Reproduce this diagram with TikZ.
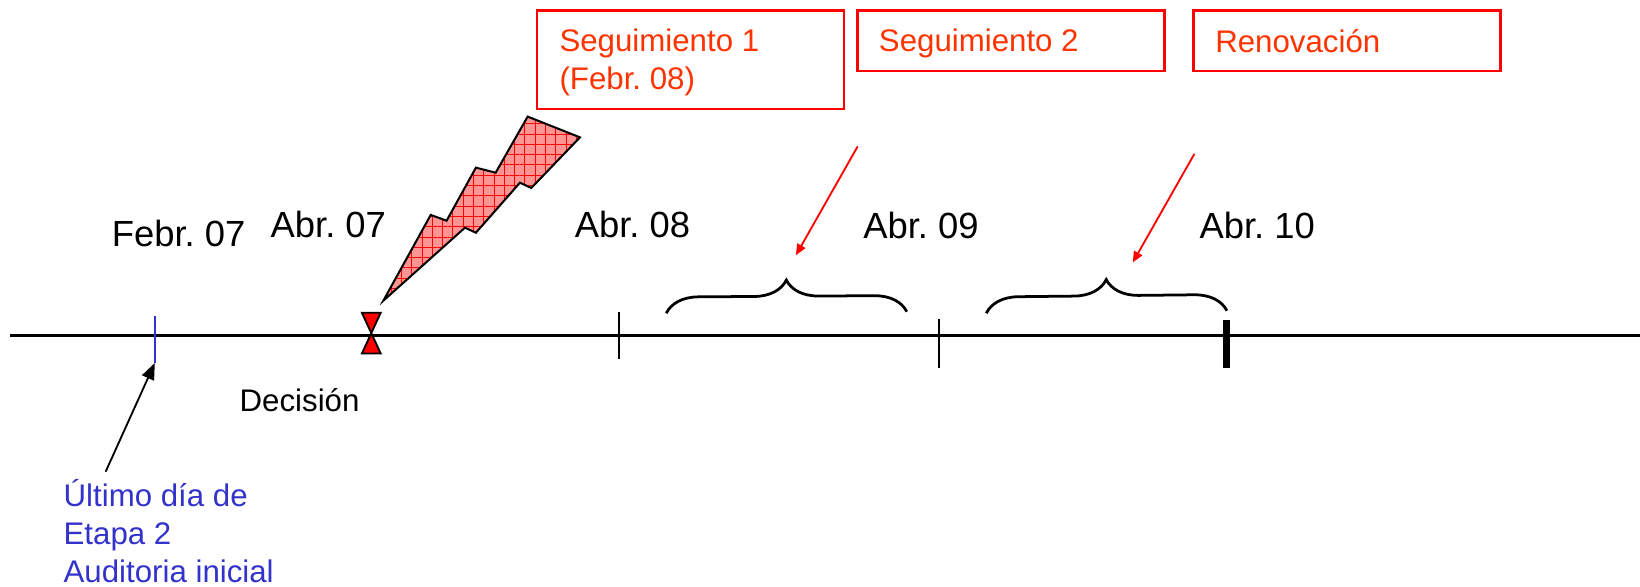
\documentclass[tikz,border=0pt]{standalone}
\usepackage{fontspec}
\setmainfont{Liberation Sans}
\usetikzlibrary{arrows.meta,patterns.meta,decorations.pathreplacing}
\frenchspacing

\definecolor{segred}{HTML}{FF3300}
\definecolor{etapablue}{HTML}{3333CC}
\definecolor{boltfill}{HTML}{FF9494}

\begin{document}
\begin{tikzpicture}[x=0.02cm,y=-0.02cm,
    datelbl/.style={anchor=base west,inner sep=0pt,font=\fontsize{19.8}{23}\selectfont},
    smalllbl/.style={anchor=base west,inner sep=0pt,align=left,font=\fontsize{17}{20.8}\selectfont},
    redbox/.style={draw=red,line width=1.3pt,anchor=north west,inner sep=0pt,minimum width=5.87cm},
    tickline/.style={line width=1.3pt},
    redarrow/.style={red,line width=1pt,-{Triangle[length=6pt,width=5pt]}},
    periodbrace/.style={line width=1.5pt,decorate,decoration={brace,amplitude=0.62cm}},
    bolt/.style={draw=black,line width=1.1pt,preaction={fill=boltfill},
        preaction={pattern={Hatch[angle=0,distance=5.6pt,line width=0.4pt]},pattern color=red}},
  ]

  \useasboundingbox (0,0) rectangle (1568,561);

  % Define the positions of the nodes
  \coordinate (start) at (10,321);
  \coordinate (end) at (1568,321);
  \coordinate (feb07top) at (148,302);
  \coordinate (feb07bot) at (148,347);
  \coordinate (abr08top) at (592,298);
  \coordinate (abr08bot) at (592,343.5);
  \coordinate (abr09top) at (898,305);
  \coordinate (abr09bot) at (898,352);
  \coordinate (abr10top) at (1172.5,306);
  \coordinate (abr10bot) at (1172.5,352);

  \node[datelbl] (feb07) at (106.6,235.8) {Febr. 07};
  \node[datelbl] (abr07) at (258.4,227.2) {Abr. 07};
  \node[datelbl] (abr08) at (549.2,227.2) {Abr. 08};
  \node[datelbl] (abr09) at (825,228) {Abr. 09};
  \node[datelbl] (abr10) at (1146.5,227.8) {Abr. 10};

  \node[smalllbl] (decision) at (228.8,393.5) {Decisión};
  % multi-line nodes sit on the baseline of their last line
  \node[smalllbl,text=etapablue] (ultimo) at (60.5,557) {Último día de\\Etapa 2\\Auditoria inicial};

  \node[redbox,minimum height=1.88cm] (box1) at (512.3,9) {};
  \node[redbox,minimum height=1.16cm] (box2) at (818.6,9) {};
  \node[redbox,minimum height=1.16cm] (box3) at (1140,9) {};
  \node[smalllbl,text=segred] (seg1) at (534.6,86) {Seguimiento 1\\(Febr. 08)};
  \node[smalllbl,text=segred] (seg2) at (840,49.4) {Seguimiento 2};
  \node[smalllbl,text=segred] (renov) at (1161.6,50.4) {Renovación};

  \coordinate (seg2arrow) at (820,140);
  \coordinate (seg2tip) at (761,244);
  \coordinate (renovarrow) at (1142,147);
  \coordinate (renovtip) at (1083,251);
  \coordinate (ultimoarrow) at (101,451);

  % Draw the edges
  \draw[line width=1.5pt] (start) -- (end);
  \draw[tickline,etapablue] (feb07top) -- (feb07bot);
  \draw[tickline] (abr08top) -- (abr08bot);
  \draw[tickline] (abr09top) -- (abr09bot);
  \draw[line width=3.6pt] (abr10top) -- (abr10bot);

  \draw[periodbrace] (637,299.5) -- (867,298);
  \draw[periodbrace] (943,299.5) -- (1173,297);

  \draw[redarrow] (seg2arrow) -- (seg2tip);
  \draw[redarrow] (renovarrow) -- (renovtip);
  \draw[line width=1pt,-{Triangle[length=9pt,width=7pt]}] (ultimoarrow) -- (feb07bot);

  % decision marker and the bolt
  \filldraw[fill=red,draw=black,line width=1pt] (346,299) -- (364,299) -- (346,338) -- (364,338) -- cycle;
  \draw[bolt] (366.5,287.5) -- (411.8,205.5) -- (427,211) -- (455,160.3) -- (473.9,165.1)
    -- (504.5,111.5) -- (554.5,131.3) -- (508,179.7) -- (497.1,174.7) -- (455,222.5)
    -- (444.5,217.7) -- cycle;
\end{tikzpicture}
\end{document}
